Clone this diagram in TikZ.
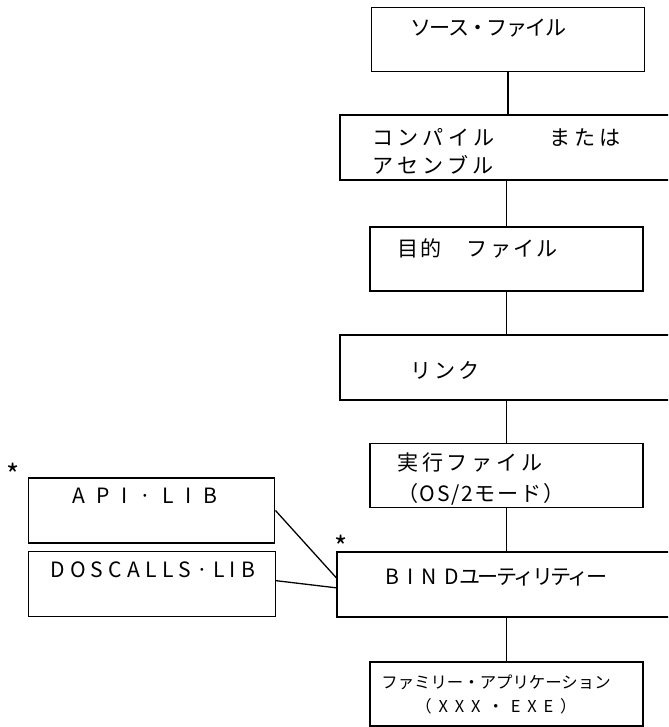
\documentclass[tikz,border=0pt]{standalone}
\usepackage{fontspec}
\newfontfamily\jp{Noto Sans CJK JP}
\newcommand\spread[2]{{\addfontfeatures{LetterSpace=#1}#2}}

\begin{document}
\begin{tikzpicture}
        [x=0.03cm, y=-0.03cm,
        filebox/.style={draw, line width=1.1pt, minimum width=8.19cm, minimum height=1.92cm, inner sep=0pt},
        stepbox/.style={draw, line width=1.1pt, minimum width=10.8cm, minimum height=1.95cm, inner sep=0pt},
        libbox/.style={draw, line width=1.1pt, minimum width=7.4cm, minimum height=1.95cm, inner sep=0pt},
        txt/.style={anchor=west, inner sep=0pt, align=left, font=\jp\fontsize{18}{24}\selectfont},
        edge/.style={line width=1.1pt}]

        \useasboundingbox (0,0) rectangle (668,727);
        \clip (0,0) rectangle (668,727);

        % Main column (file boxes and step boxes)
        \node[filebox] (src) at (508,39.5) {};
        \node[stepbox] (comp) at (520,147.5) {};
        \node[filebox] (obj) at (506.5,259) {};
        \node[stepbox] (link) at (520,367.5) {};
        \node[filebox] (exe) at (506.5,475.5) {};
        \node[stepbox] (bind) at (517,584.5) {};
        \node[filebox] (fam) at (506.5,694) {};

        % Libraries
        \node[libbox] (api) at (151.5,510.5) {};
        \node[libbox] (dos) at (152,584) {};

        % Texts
        \node[txt] (t-src) at (410,28) {\spread{-8}{ソース・ファイル}};
        \node[txt] (t-comp) at (372,151) {\spread{20}{コンパイル　　または}\\\spread{20}{アセンブル}};
        \node[txt] (t-obj) at (397,248) {\spread{10}{目的　ファイル}};
        \node[txt] (t-link) at (410,370) {\spread{14}{リンク}};
        \node[txt] (t-exe) at (397,479) {\spread{18}{実行ファイル}\\[3pt]\spread{8}{（OS/2モード）}};
        \node[txt] (t-bind) at (385,577) {\spread{38}{BIND}\spread{-12}{ユーティリティー}};
        \node[txt, anchor=center, align=center, font=\jp\fontsize{14}{21}\selectfont] (t-fam) at (496,694.5)
            {ファミリー・アプリケーション\\\spread{42}{（XXX・EXE）}};
        \node[txt] (t-api) at (72,496) {\spread{55}{API·LIB}};
        \node[txt] (t-dos) at (50,570) {\spread{25}{DOSCALLS·LIB}};

        % Asterisks
        \node[txt, font=\jp\fontsize{24}{24}\selectfont] (ast-api) at (6,474) {*};
        \node[txt, font=\jp\fontsize{24}{24}\selectfont] (ast-bind) at (334,546) {*};

        % Flow
        \draw[edge] (src.south) -- (src.south |- comp.north);
        \draw[edge] (obj.north |- comp.south) -- (obj.north);
        \draw[edge] (obj.south) -- (obj.south |- link.north);
        \draw[edge] (exe.north |- link.south) -- (exe.north);
        \draw[edge] (exe.south) -- (exe.south |- bind.north);
        \draw[edge] (fam.north |- bind.south) -- (fam.north);

        % Libraries into BIND
        \draw[edge] (api.east) -- ([yshift=0.2cm]bind.west);
        \draw[edge] ([yshift=0.1cm]dos.east) -- ([yshift=-0.1cm]bind.west);

\end{tikzpicture}
\end{document}
